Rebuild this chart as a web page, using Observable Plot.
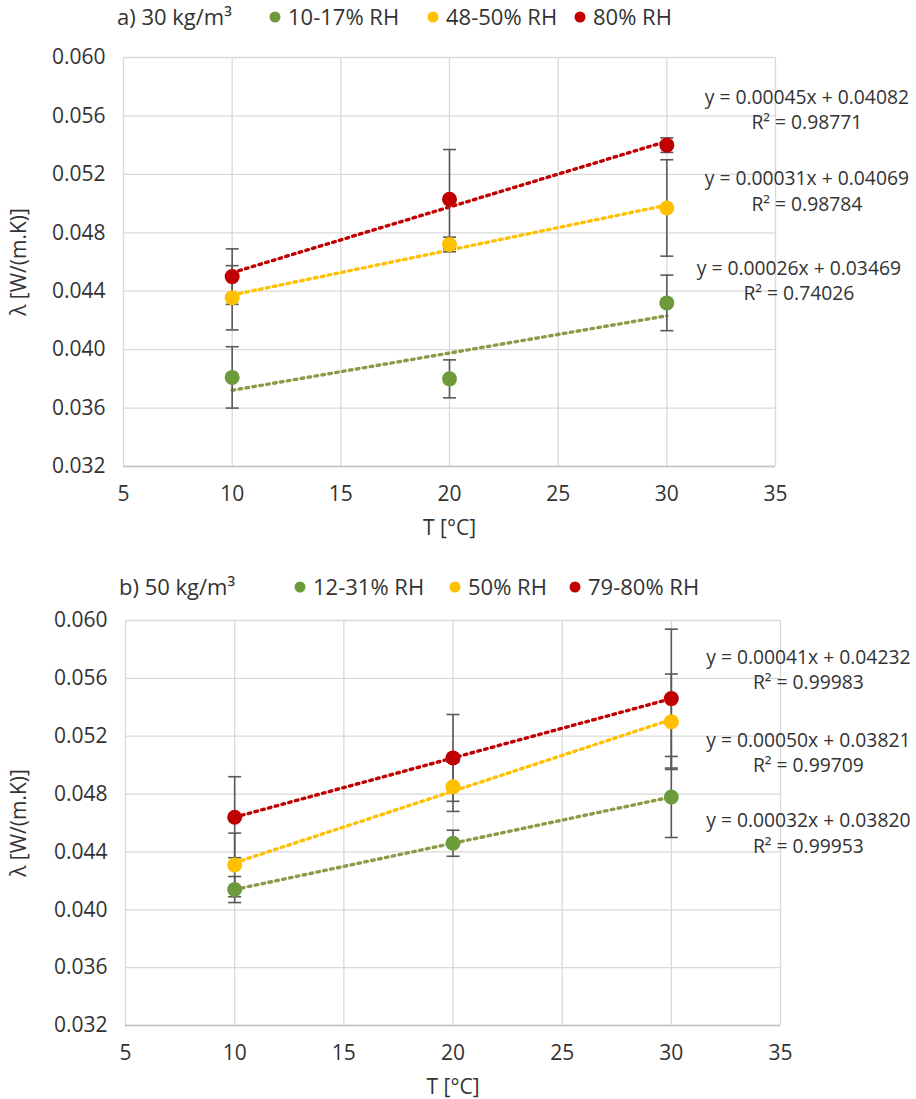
<!DOCTYPE html>
<html>
<head>
<meta charset="utf-8">
<script src="https://cdn.jsdelivr.net/npm/d3@7"></script>
<script src="https://cdn.jsdelivr.net/npm/@observablehq/plot@0.6"></script>
<style>
  body { margin: 0; background: #ffffff; font-family: "Open Sans", sans-serif; width: 916px; color: #333333; }
  .legend { position: relative; width: 916px; font-size: 22px; }
  .legend .item { position: absolute; white-space: nowrap; transform: translateY(-50%); line-height: 1.2; }
  .legend .dot { position: absolute; width: 11px; height: 11px; border-radius: 50%; transform: translate(-50%, -50%); }
  svg { display: block; }
</style>
</head>
<body>
<div id="legA" class="legend" style="height:32px"></div>
<div id="plotA"></div>
<div id="legB" class="legend" style="height:55px"></div>
<div id="plotB"></div>
<script>
// ---------- data ----------
const temperatures = [10, 20, 30];
const xTicks = [5, 10, 15, 20, 25, 30, 35];
const yTicks = [0.032, 0.036, 0.040, 0.044, 0.048, 0.052, 0.056, 0.060];

// Panel a) 30 kg/m3
const titleA = "a) 30 kg/m³";
const seriesA = ["10-17% RH", "48-50% RH", "80% RH"];
const lambdaA_low = [0.0381, 0.0380, 0.0432];
const lambdaA_mid = [0.04355, 0.0472, 0.0497];
const lambdaA_high = [0.0450, 0.0503, 0.0540];
const errA_low = [0.0021, 0.0013, 0.0019];
const errA_mid = [0.0022, 0.0005, 0.0033];
const errA_high = [0.0019, 0.0034, 0.0005];
const equationsA = ["y = 0.00026x + 0.03469", "y = 0.00031x + 0.04069", "y = 0.00045x + 0.04082"];
const r2A = ["R² = 0.74026", "R² = 0.98784", "R² = 0.98771"];

// Panel b) 50 kg/m3
const titleB = "b) 50 kg/m³";
const seriesB = ["12-31% RH", "50% RH", "79-80% RH"];
const lambdaB_low = [0.0414, 0.0446, 0.0478];
const lambdaB_mid = [0.0431, 0.0485, 0.0530];
const lambdaB_high = [0.0464, 0.0505, 0.0546];
const errB_low = [0.0009, 0.0009, 0.0028];
const errB_mid = [0.0022, 0.0017, 0.0033];
const errB_high = [0.0028, 0.0030, 0.0048];
const equationsB = ["y = 0.00032x + 0.03820", "y = 0.00050x + 0.03821", "y = 0.00041x + 0.04232"];
const r2B = ["R² = 0.99953", "R² = 0.99709", "R² = 0.99983"];

// ---------- styles ----------
const dotColors = ["#6d9b3c", "#ffc000", "#c00000"];
const trendColors = ["#8d9a48", "#ffc000", "#c00000"];
const errColor = "#595959";
const textColor = "#333333";
const font = "'Open Sans', sans-serif";

const capSymbol = {
  draw(ctx, size) {
    const w = Math.sqrt(size / Math.PI);
    ctx.moveTo(-w, 0);
    ctx.lineTo(w, 0);
  }
};

function buildRows(names, values, errs, eqs, r2s) {
  const rows = [];
  names.forEach((name, s) => {
    temperatures.forEach((t, i) => {
      rows.push({series: s, name, T: t, lambda: values[s][i], err: errs[s][i], eq: eqs[s] + "\n" + r2s[s]});
    });
  });
  return rows;
}

function legend(el, title, names, layout) {
  const root = document.getElementById(el);
  const t = document.createElement("div");
  t.className = "item";
  t.style.left = layout.title + "px";
  t.style.top = layout.cy + "px";
  t.textContent = title;
  root.appendChild(t);
  names.forEach((n, i) => {
    const d = document.createElement("div");
    d.className = "dot";
    d.style.left = layout.dots[i] + "px";
    d.style.top = (layout.cy + 1) + "px";
    d.style.background = dotColors[i];
    root.appendChild(d);
    const s = document.createElement("div");
    s.className = "item";
    s.style.left = (layout.dots[i] + 13) + "px";
    s.style.top = layout.cy + "px";
    s.textContent = n;
    root.appendChild(s);
  });
}

function panel(rows, cfg) {
  const marks = [
    Plot.gridX(xTicks, {stroke: "#d9d9d9", strokeOpacity: 1, strokeWidth: 1.3}),
    Plot.gridY(yTicks, {stroke: "#d9d9d9", strokeOpacity: 1, strokeWidth: 1.3}),
    Plot.ruleY([0.032], {stroke: "#c4c4c4", strokeWidth: 1.5}),
    Plot.axisX(xTicks, {tickSize: 0, tickPadding: 20, fontSize: 21, fill: textColor,
      label: "T [°C]", labelAnchor: "center", labelArrow: "none", labelOffset: cfg.xLabelOffset}),
    Plot.axisY(yTicks, {tickSize: 0, tickPadding: 18, fontSize: 21, fill: textColor, tickFormat: d3.format(".3f"),
      label: "λ [W/(m.K)]", labelAnchor: "center", labelArrow: "none", labelOffset: cfg.yLabelOffset})
  ];
  [0, 1, 2].forEach(s => {
    const sub = rows.filter(d => d.series === s);
    marks.push(Plot.linearRegressionY(sub, {x: "T", y: "lambda", stroke: trendColors[s], ci: 0,
      strokeWidth: 3.4, strokeDasharray: "2.6,4.4"}));
  });
  marks.push(
    Plot.ruleX(rows, {x: "T", y1: d => d.lambda - d.err, y2: d => d.lambda + d.err, stroke: errColor, strokeWidth: 1.6}),
    Plot.dot(rows, {x: "T", y: d => d.lambda - d.err, symbol: capSymbol, r: 6.5, stroke: errColor, strokeWidth: 1.6}),
    Plot.dot(rows, {x: "T", y: d => d.lambda + d.err, symbol: capSymbol, r: 6.5, stroke: errColor, strokeWidth: 1.6})
  );
  [0, 1, 2].forEach(s => {
    marks.push(Plot.dot(rows.filter(d => d.series === s), {x: "T", y: "lambda", r: 7.5, fill: dotColors[s]}));
  });
  [0, 1, 2].forEach(s => {
    const last = rows.filter(d => d.series === s && d.T === 30);
    marks.push(Plot.text(last, {x: "T", y: "lambda", text: "eq", dx: cfg.eqDx[s], dy: cfg.eqDy[s],
      textAnchor: "middle", lineAnchor: "middle", lineHeight: 1.3, fontSize: 19.3, fill: textColor}));
  });
  return Plot.plot({
    width: 916,
    height: cfg.height,
    marginLeft: cfg.ml, marginRight: cfg.mr, marginTop: cfg.mt, marginBottom: cfg.mb,
    style: {fontFamily: font, fontSize: "21px", color: textColor, background: "transparent", overflow: "visible"},
    x: {type: "linear", domain: [5, 35]},
    y: {type: "linear", domain: [0.032, 0.060]},
    marks
  });
}

legend("legA", titleA, seriesA, {title: 117, cy: 16, dots: [275, 433, 580]});
legend("legB", titleB, seriesB, {title: 119, cy: 41, dots: [300, 455, 575]});

const rowsA = buildRows(seriesA, [lambdaA_low, lambdaA_mid, lambdaA_high], [errA_low, errA_mid, errA_high], equationsA, r2A);
const rowsB = buildRows(seriesB, [lambdaB_low, lambdaB_mid, lambdaB_high], [errB_low, errB_mid, errB_high], equationsB, r2B);

document.getElementById("plotA").appendChild(panel(rowsA, {
  height: 513, ml: 123, mr: 141, mt: 25, mb: 79,
  xLabelOffset: 68, yLabelOffset: 112,
  eqDx: [132, 140, 140], eqDy: [-23, -18, -37]
}));
document.getElementById("plotB").appendChild(panel(rowsB, {
  height: 499, ml: 125, mr: 136, mt: 20, mb: 74,
  xLabelOffset: 68, yLabelOffset: 114,
  eqDx: [137, 137, 137], eqDy: [35, 30, -30]
}));
</script>
</body>
</html>
